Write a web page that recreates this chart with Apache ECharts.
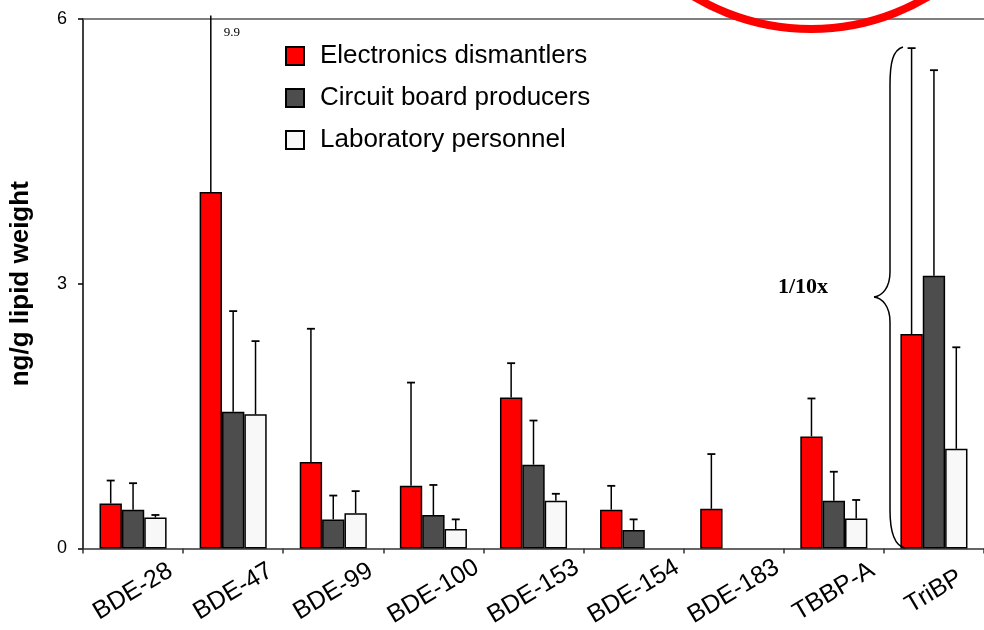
<!DOCTYPE html>
<html>
<head>
<meta charset="utf-8">
<script src="https://cdn.jsdelivr.net/npm/echarts@6/dist/echarts.min.js"></script>
<style>
html,body{margin:0;padding:0;background:#fff;}
#chart{width:984px;height:630px;}
</style>
</head>
<body>
<div id="chart"></div>
<script>
// ---- data ----
const categories = ['BDE-28','BDE-47','BDE-99','BDE-100','BDE-153','BDE-154','BDE-183','TBBP-A','TriBP'];
const seriesNames = ['Electronics dismantlers','Circuit board producers','Laboratory personnel'];
const dismantlers      = [0.51, 4.04, 0.98, 0.71, 1.71, 0.44, 0.45, 1.27, 2.43];
const dismantlersUpper = [0.77, 9.9,  2.49, 1.88, 2.10, 0.71, 1.07, 1.70, 5.67];
const producers        = [0.44, 1.55, 0.33, 0.38, 0.95, 0.21, null, 0.54, 3.09];
const producersUpper   = [0.74, 2.69, 0.60, 0.72, 1.45, 0.33, null, 0.87, 5.42];
const personnel        = [0.35, 1.52, 0.40, 0.22, 0.54, null, null, 0.34, 1.13];
const personnelUpper   = [0.38, 2.35, 0.65, 0.33, 0.62, null, null, 0.55, 2.28];
const yTicks = [0, 3, 6];
const scaleNote = '1/10x';

const colors = ['#FF0000', '#4D4D4D', '#F8F8F8'];
const means = [dismantlers, producers, personnel];
const uppers = [dismantlersUpper, producersUpper, personnelUpper];
const yMax = yTicks[yTicks.length - 1];
const barCatGap = 0.33;

const chart = echarts.init(document.getElementById('chart'), null, {renderer: 'canvas'});

function errSeries(k) {
  const data = [];
  for (let i = 0; i < categories.length; i++) {
    if (means[k][i] != null && uppers[k][i] != null) data.push([i, means[k][i], uppers[k][i]]);
  }
  return {
    type: 'custom',
    name: seriesNames[k] + ' err',
    data: data,
    encode: {x: 0, y: [1, 2]},
    z: 5,
    clip: false,
    silent: true,
    renderItem: function (params, api) {
      const i = api.value(0);
      const m = api.value(1);
      const hi = api.value(2);
      const catW = api.size([1, 0])[0];
      const barW = catW * (1 - barCatGap) / 3;
      const off = (k - 1) * barW;
      const clipped = hi > yMax;
      const p0 = api.coord([i, m]);
      const p1 = api.coord([i, clipped ? yMax + 0.04 : hi]);
      const x = p0[0] + off;
      const children = [{
        type: 'line',
        shape: {x1: x, y1: p0[1], x2: x, y2: p1[1]},
        style: {stroke: '#000', lineWidth: 1.5}
      }];
      if (!clipped) {
        children.push({
          type: 'line',
          shape: {x1: x - 4, y1: p1[1], x2: x + 4, y2: p1[1]},
          style: {stroke: '#000', lineWidth: 1.8}
        });
      } else {
        children.push({
          type: 'text',
          style: {
            text: String(hi), x: x + 13, y: p1[1] + 17,
            fill: '#000', font: '13px "Liberation Serif", "Times New Roman", serif',
            verticalAlign: 'middle'
          }
        });
      }
      return {type: 'group', children: children};
    }
  };
}

const barSeries = seriesNames.map((n, k) => ({
  type: 'bar',
  name: n,
  data: means[k],
  barGap: '0%',
  barCategoryGap: (barCatGap * 100) + '%',
  itemStyle: {color: colors[k], borderColor: '#000', borderWidth: 1.5},
  emphasis: {disabled: true},
  z: 3
}));

const braceStyle = {stroke: '#000', lineWidth: 1.5, fill: null};
function bez(a) {
  return {type: 'bezierCurve', z: 10, silent: true,
    shape: {x1: a[0], y1: a[1], cpx1: a[2], cpy1: a[3], cpx2: a[4], cpy2: a[5], x2: a[6], y2: a[7]},
    style: braceStyle};
}
function seg(a) {
  return {type: 'line', z: 10, silent: true,
    shape: {x1: a[0], y1: a[1], x2: a[2], y2: a[3]}, style: braceStyle};
}

const option = {
  animation: false,
  backgroundColor: '#fff',
  textStyle: {fontFamily: '"Liberation Sans", Arial, sans-serif'},
  grid: {left: 83, top: 19, width: 906, height: 529.5, containLabel: false},
  legend: {
    data: seriesNames,
    orient: 'vertical',
    left: 280,
    top: 38,
    itemWidth: 18,
    itemHeight: 18,
    itemGap: 16,
    icon: 'rect',
    selectedMode: false,
    textStyle: {fontSize: 26, color: '#000', padding: [2, 0, 0, 11], fontFamily: '"Liberation Sans", Arial, sans-serif'}
  },
  xAxis: [{
    type: 'category',
    data: categories,
    position: 'bottom',
    axisLine: {lineStyle: {color: '#333', width: 1.5}},
    axisTick: {show: true, length: 5, lineStyle: {color: '#333', width: 1.5}},
    axisLabel: {
      interval: 0, rotate: 31, align: 'center', verticalAlign: 'middle',
      margin: 43, fontSize: 25, color: '#000',
      fontFamily: '"Liberation Sans", Arial, sans-serif'
    },
    splitLine: {show: false}
  }, {
    type: 'category',
    data: categories,
    position: 'top',
    axisLine: {show: true, lineStyle: {color: '#555', width: 1.5}},
    axisTick: {show: false},
    axisLabel: {show: false},
    splitLine: {show: false}
  }],
  yAxis: {
    type: 'value',
    min: yTicks[0],
    max: yMax,
    interval: yTicks[1] - yTicks[0],
    name: 'ng/g lipid weight',
    nameLocation: 'middle',
    nameGap: 49,
    nameRotate: 90,
    nameTextStyle: {fontSize: 26, fontWeight: 'bold', color: '#000', fontFamily: '"Liberation Sans", Arial, sans-serif'},
    axisLine: {show: true, lineStyle: {color: '#000', width: 1.5}},
    axisTick: {show: true, length: 5, lineStyle: {color: '#000', width: 1.5}},
    axisLabel: {fontSize: 18, color: '#000', margin: 16, fontFamily: '"Liberation Sans", Arial, sans-serif'},
    splitLine: {show: false}
  },
  series: barSeries.concat([errSeries(0), errSeries(1), errSeries(2)]),
  graphic: [
    bez([903, 47, 893, 50, 890, 62, 890, 85]),
    seg([890, 85, 890, 272]),
    bez([890, 272, 890, 288, 882, 296, 874, 297]),
    bez([874, 297, 882, 298, 890, 306, 890, 322]),
    seg([890, 322, 890, 510]),
    bez([890, 510, 890, 535, 896, 546, 905, 548]),
    {
      type: 'text',
      z: 10,
      style: {
        text: scaleNote, x: 803, y: 287, align: 'center', verticalAlign: 'middle',
        font: 'bold 22px "Liberation Serif", "Times New Roman", serif', fill: '#000'
      }
    },
    {
      type: 'circle',
      z: 10,
      silent: true,
      shape: {cx: 811, cy: -199, r: 228},
      style: {stroke: '#FF0000', lineWidth: 8, fill: null}
    }
  ]
};
chart.setOption(option);
</script>
</body>
</html>
